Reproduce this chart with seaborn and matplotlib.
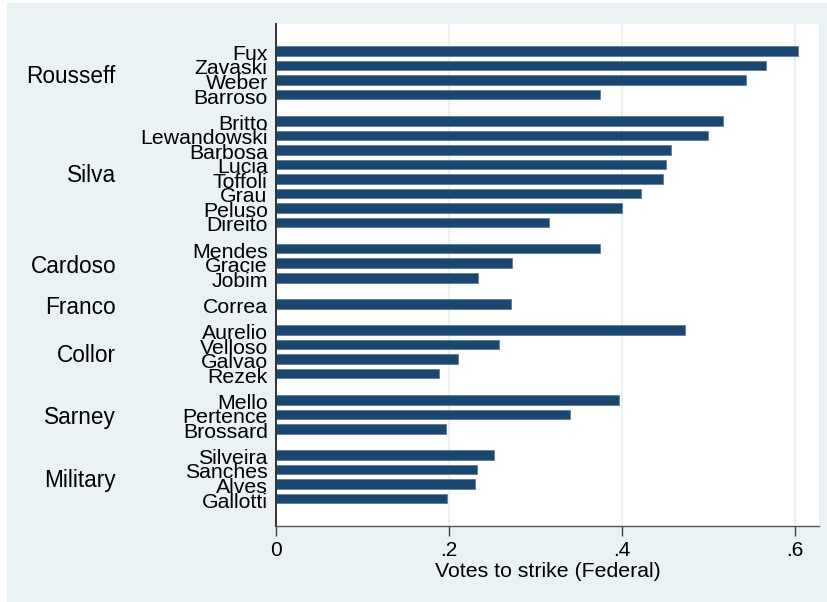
import matplotlib
matplotlib.use("Agg")
import matplotlib.pyplot as plt
from matplotlib.patches import Rectangle
from matplotlib.transforms import blended_transform_factory, offset_copy
import seaborn as sns
import pandas as pd

# Appointing presidents, in display order, with the number of judges each appointed
presidents = ["Rousseff", "Silva", "Cardoso", "Franco", "Collor", "Sarney", "Military"]
group_sizes = [4, 8, 3, 1, 4, 3, 4]

judges = [
    "Fux", "Zavaski", "Weber", "Barroso",
    "Britto", "Lewandowski", "Barbosa", "Lucia", "Toffoli", "Grau", "Peluso", "Direito",
    "Mendes", "Gracie", "Jobim",
    "Correa",
    "Aurelio", "Velloso", "Galvao", "Rezek",
    "Mello", "Pertence", "Brossard",
    "Silveira", "Sanches", "Alves", "Gallotti",
]

votes = [
    0.603, 0.566, 0.543, 0.375,
    0.517, 0.499, 0.457, 0.451, 0.447, 0.422, 0.400, 0.316,
    0.374, 0.273, 0.234,
    0.272,
    0.473, 0.258, 0.210, 0.188,
    0.397, 0.340, 0.196,
    0.252, 0.232, 0.230, 0.198,
]

xticks = [0, 0.2, 0.4, 0.6]
xtick_labels = ["0", ".2", ".4", ".6"]
xlabel = "Votes to strike (Federal)"

# Row positions: one unit per judge, extra gap between presidents
GAP = 0.8
positions, group_of, pos = [], [], 0.0
for g, n in zip(presidents, group_sizes):
    for _ in range(n):
        positions.append(pos)
        group_of.append(g)
        pos += 1.0
    pos += GAP

df = pd.DataFrame({"judge": judges, "votes": votes, "pos": positions, "president": group_of})

sns.set_theme(style="white")
plt.rcParams["font.family"] = ["Liberation Sans", "DejaVu Sans"]

BG = "#EAF2F3"
BAR = "#1A476F"

fig = plt.figure(figsize=(8.27, 6.02), dpi=100, facecolor=BG)
# thin white margins along the left and top edges
fig.patches.append(Rectangle((0, 0), 7 / 827, 1, transform=fig.transFigure,
                             facecolor="white", edgecolor="none"))
fig.patches.append(Rectangle((0, 1 - 3 / 602), 1, 3 / 602, transform=fig.transFigure,
                             facecolor="white", edgecolor="none"))

ax = fig.add_axes([276 / 827, 1 - 526 / 602, (819 - 276) / 827, (526 - 24) / 602])
ax.set_facecolor("white")

for x in xticks[1:]:
    ax.axvline(x, color=BG, lw=1.6, zorder=0)

sns.barplot(data=df, x="votes", y="pos", orient="y", native_scale=True,
            color=BAR, saturation=1, width=0.66, edgecolor="#5E7E9B",
            linewidth=0.6, ax=ax, zorder=2)

ax.set_xlim(0, (819 - 276) / 865)
ax.set_ylim(positions[-1] + 1.88, -1.86)

ax.set_yticks(positions, labels=judges)
ax.tick_params(axis="y", length=0, pad=6, labelsize=15.3, colors="black")
for lbl in ax.get_yticklabels():
    lbl.set_transform(offset_copy(lbl.get_transform(), fig=fig, x=0, y=-1, units="points"))
ax.set_xticks(xticks, labels=xtick_labels)
ax.tick_params(axis="x", length=7, width=1, color="#444444", pad=4, labelsize=15,
               labelcolor="black", direction="out", bottom=True)
ax.set_xlabel(xlabel, fontsize=15.3, labelpad=1, color="black")
ax.set_ylabel("")

for side in ["top", "right"]:
    ax.spines[side].set_visible(False)
ax.spines["left"].set_color("#333333")
ax.spines["left"].set_linewidth(1.4)
ax.spines["bottom"].set_color("#555555")
ax.spines["bottom"].set_linewidth(1.0)

# President labels, centred on each group of bars
tr = offset_copy(blended_transform_factory(fig.transFigure, ax.transData),
                 fig=fig, x=0, y=-2.5, units="points")
for g in presidents:
    ys = df.loc[df["president"] == g, "pos"]
    ax.text(116 / 827, ys.mean(), g, transform=tr, ha="right", va="center",
            fontsize=16.3, color="black")

fig.savefig("out.png", dpi=100, facecolor=fig.get_facecolor())
